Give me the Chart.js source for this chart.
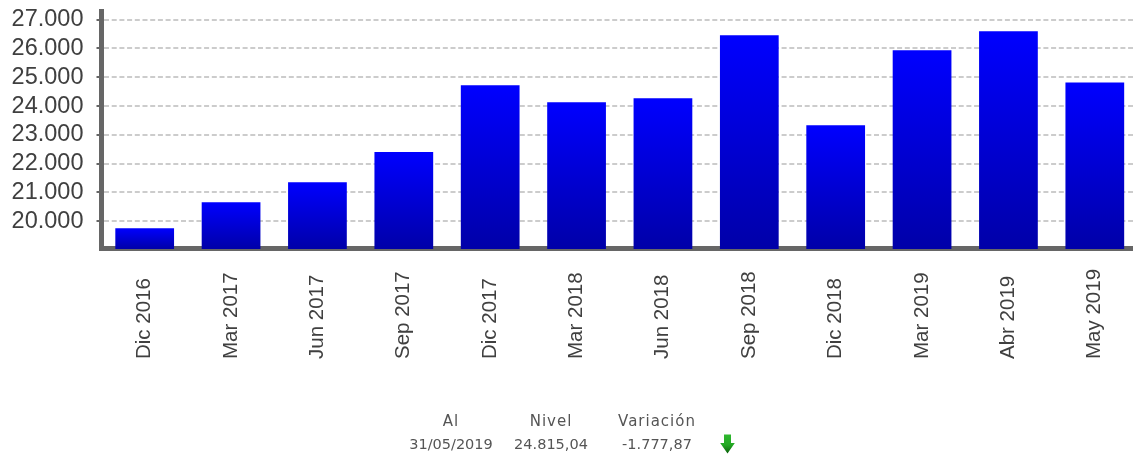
<!DOCTYPE html>
<html>
<head>
<meta charset="utf-8">
<title>Nivel</title>
<script src="https://cdn.jsdelivr.net/npm/chart.js@4/dist/chart.umd.min.js"></script>
<style>
  html, body { margin: 0; padding: 0; background: #fff; overflow: hidden; }
  #wrap { position: relative; width: 1133px; height: 456px; overflow: hidden; }
  #holder { position: absolute; left: 0; top: 0; width: 1138px; height: 456px; }
  .info {
    position: absolute; transform: translateX(-50%); white-space: nowrap;
    font-family: "DejaVu Sans", sans-serif; font-size: 14.5px; color: #555;
  }
  .head { font-size: 15px; letter-spacing: 1px; }
  #arrow { position: absolute; left: 720px; top: 434px; }
</style>
</head>
<body>
<div id="wrap">
  <div id="holder"><canvas id="nivelChart"></canvas></div>
  <div class="info head" style="left:451px;top:412px">Al</div>
  <div class="info head" style="left:551px;top:412px">Nivel</div>
  <div class="info head" style="left:657px;top:412px">Variación</div>
  <div class="info" style="left:451px;top:436px">31/05/2019</div>
  <div class="info" style="left:551px;top:436px">24.815,04</div>
  <div class="info" style="left:657px;top:436px">-1.777,87</div>
  <svg id="arrow" width="15" height="20" viewBox="0 0 15 20">
    <defs>
      <linearGradient id="verde" x1="0" x2="0" y1="0" y2="1">
        <stop offset="0" stop-color="#2fb82f"/>
        <stop offset="0.55" stop-color="#22a822"/>
        <stop offset="1" stop-color="#0a5e0a"/>
      </linearGradient>
    </defs>
    <path d="M4 0.500H11V9H14.800L7.500 19.500L0.200 9H4Z" fill="url(#verde)"/>
  </svg>
</div>
<script>
const categories = [
  "Dic 2016", "Mar 2017", "Jun 2017", "Sep 2017", "Dic 2017", "Mar 2018",
  "Jun 2018", "Sep 2018", "Dic 2018", "Mar 2019", "Abr 2019", "May 2019",
];
const nivel = [
  19760, 20660, 21350, 22400, 24720, 24130,
  24270, 26460, 23330, 25940, 26600, 24815.04,
];
const yTicks = [20000, 21000, 22000, 23000, 24000, 25000, 26000, 27000];

// degradado propio de cada barra, de arriba a abajo
function barGradient(context) {
  const chart = context.chart;
  if (!chart.chartArea) return "#0000ff";
  const y = chart.scales.y;
  const top = y.getPixelForValue(context.parsed ? context.parsed.y : nivel[context.dataIndex]);
  const g = chart.ctx.createLinearGradient(0, top, 0, chart.chartArea.bottom + 1);
  g.addColorStop(0, "#0000ff");
  g.addColorStop(1, "#0000a8");
  return g;
}

// etiquetas del eje x alineadas por su inicio, no por su final
const xLabelsPlugin = {
  id: "xLabels",
  afterDraw: function (chart) {
    const c = chart.ctx;
    const x = chart.scales.x;
    c.save();
    c.fillStyle = "#404040";
    c.font = "20.5px 'Liberation Sans'";
    c.textAlign = "left";
    c.textBaseline = "alphabetic";
    categories.forEach(function (label, i) {
      c.save();
      c.translate(x.getPixelForTick(i) + 5.5, 359);
      c.rotate(-Math.PI / 2);
      c.fillText(label, 0, 0);
      c.restore();
    });
    c.restore();
  },
};

const ctx = document.getElementById("nivelChart").getContext("2d");
const nivelChart = new Chart(ctx, {
  type: "bar",
  data: {
    labels: categories,
    datasets: [
      {
        label: "Nivel",
        data: nivel,
        base: 19036,
        clip: false,
        backgroundColor: barGradient,
        barPercentage: 1,
        categoryPercentage: 0.68,
      },
    ],
  },
  plugins: [xLabelsPlugin],
  options: {
    responsive: true,
    maintainAspectRatio: false,
    animation: false,
    layout: { padding: { top: 11, left: 0, right: 0, bottom: 0 } },
    scales: {
      x: {
        grid: { display: false },
        border: { color: "#666666", width: 5 },
        ticks: { display: false, autoSkip: false },
        afterFit: function (scale) {
          scale.height = 208;
        },
      },
      y: {
        min: 19071,
        max: 27300,
        afterBuildTicks: function (scale) {
          scale.ticks = yTicks.map(function (v) {
            return { value: v };
          });
        },
        grid: {
          color: "#cccccc",
          lineWidth: 2,
          tickColor: "#666666",
          tickWidth: 2,
          tickLength: 5,
        },
        border: { color: "#666666", width: 5, dash: [5, 2.7] },
        ticks: {
          padding: 13,
          color: "#404040",
          font: { family: "'Liberation Sans'", size: 23.5 },
          callback: function (value) {
            return String(value).replace(/\B(?=(\d{3})+$)/g, ".");
          },
        },
        afterFit: function (scale) {
          scale.width = 101.5;
          scale.paddingTop = 0;
          scale.paddingBottom = 0;
        },
      },
    },
    plugins: {
      legend: { display: false },
      tooltip: { enabled: false },
    },
  },
});
</script>
</body>
</html>
